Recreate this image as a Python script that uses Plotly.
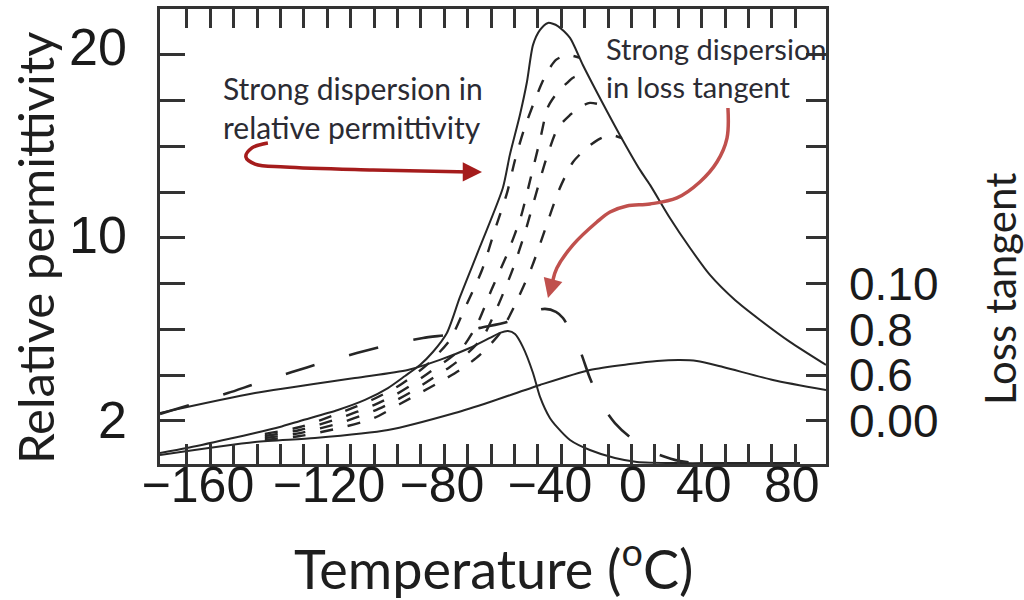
import plotly.graph_objects as go

# ---------------- data (temperature in °C on x) ----------------
# Main permittivity curve (lowest frequency, solid)
P0_T = [-191.5, -180, -160.3, -150.9, -140.3, -131.7, -115.5, -103.9, -94.1, -86.8, -80.4, -74.9,
        -68.9, -63.3, -54.8, -45.0, -42.0, -37.7, -34.7, -32.1, -29.1, -25.7, -21.5, -16.3, -10.8,
        -2.6, 5.0, 13.6, 17.9, 26.4, 35.0, 43.5, 54.2, 64.9, 77.7, 93.1]
P0_V = [-1.75, -1.48, -0.93, -0.66, -0.33, 0, 0.60, 1.15, 1.80, 2.46, 3.06, 3.77, 4.81, 6.78, 9.51,
        12.73, 14.54, 16.72, 18.52, 20.55, 21.37, 21.75, 21.58, 20.93, 19.45, 17.43, 15.63, 13.72,
        12.90, 11.09, 9.45, 7.98, 6.61, 5.52, 4.32, 3.06]

# Higher-frequency permittivity curves (dashed)
D1_T = [-146.7, -131.7, -114.6, -100.1, -90.3, -83.4, -76.2, -67.6, -61.2, -53.9, -48.4, -43.2,
        -39.8, -36.0, -32.1, -28.3, -24.9, -22.3, -17.6, -12.1]
D1_V = [-0.71, -0.33, 0.44, 1.20, 1.86, 2.46, 3.22, 4.43, 6.17, 8.25, 10.44, 12.46, 14.26, 15.90,
        17.27, 18.47, 19.29, 19.73, 20.0, 19.84]
D2_T = [-146.7, -131.7, -114.6, -100.1, -90.3, -83.4, -76.2, -67.6, -62.1, -56.1, -49.7, -42.8,
        -37.3, -33.0, -29.1, -25.7, -21.5, -18.0, -14.2, -9.9]
D2_V = [-0.82, -0.49, 0.16, 0.87, 1.48, 2.02, 2.68, 3.44, 4.04, 5.25, 7.21, 9.23, 11.15, 13.33,
        15.36, 17.16, 17.98, 18.42, 18.80, 18.69]
D3_T = [-146.7, -131.7, -114.6, -100.1, -90.3, -83.4, -76.2, -67.6, -59.9, -53.5, -47.5, -40.7,
        -35.6, -31.3, -26.6, -21.5, -16.3, -12.1, -7.8, -2.6]
D3_V = [-0.93, -0.66, -0.11, 0.55, 1.15, 1.64, 2.24, 2.95, 3.72, 4.59, 6.17, 8.31, 10.27, 12.19,
        14.26, 16.01, 16.72, 17.16, 17.38, 17.27]
D4_T = [-146.7, -131.7, -114.6, -100.1, -89.0, -80.4, -71.9, -63.3, -54.8, -46.2, -39.8, -32.6,
        -27.0, -21.0, -15.0, -9.1, -4.4, 0.8, 5.9]
D4_V = [-1.04, -0.82, -0.38, 0.16, 0.93, 1.53, 2.13, 2.79, 3.61, 4.81, 6.34, 8.42, 10.44, 12.62,
        14.15, 14.92, 15.36, 15.63, 15.46]

# Broad low hump (solid)
L3_T = [-191.5, -150.9, -125.3, -94.1, -65.5, -50.5, -29.1, -7.8, 9.3, 20.9, 30.7, 37.9, 49.1, 70.4, 93.1]
L3_V = [-1.86, -1.15, -0.93, -0.49, 0.44, 1.04, 1.97, 2.79, 3.11, 3.28, 3.33, 3.28, 2.95, 2.24, 1.69]

# Loss tangent curves (right axis)
TAN1_T = [-191.5, -150.9, -108.2, -85.6, -71.9, -59.1, -50.5, -46.2, -42.8, -39.8, -36.4, -32.1,
          -29.1, -24.9, -21.9, -16.3, -7.8, 2.9, 12.3, 30.7, 47.8, 82.0]
TAN1_V = [0.0035, 0.0122, 0.0188, 0.0223, 0.0267, 0.0319, 0.0363, 0.0385, 0.0393, 0.0380, 0.0323,
          0.0210, 0.0105, 0.0013, -0.0026, -0.0083, -0.0127, -0.0162, -0.0179, -0.0184, -0.0184, -0.0184]
TAN2_T = [-191.5, -162.5, -150.9, -135.1, -122.3, -107.4, -94.1, -79.1, -66.3, -54.8, -43.2, -34.7,
          -27.0, -22.3, -19.3, -12.9, -7.8, -2.6, 2.9, 9.3, 19.1, 30.7, 43.5]
TAN2_V = [0.0031, 0.0122, 0.0162, 0.0214, 0.0254, 0.0297, 0.0332, 0.0363, 0.0380, 0.0407, 0.0433,
          0.0472, 0.0490, 0.0477, 0.0450, 0.0332, 0.0188, 0.0070, -0.0009, -0.0070, -0.0136, -0.0175, -0.0188]

# Callout arrows (in the same temperature / permittivity units)
ARROW1_T = [-145.4, -152.2, -154.8, -150.9, -138.1, -100.5, -59.1]
ARROW1_V = [15.19, 14.92, 14.43, 14.04, 13.88, 13.72, 13.61]
ARROW1_TIP = (-53.9, 13.61)
ARROW2_T = [51.2, 50.8, 46.5, 39.2, 29.4, 17.9, 8.0, 0.8, -4.8, -15.0, -21.9, -23.6]
ARROW2_V = [17.10, 15.46, 14.15, 13.06, 12.19, 11.86, 11.75, 11.42, 10.87, 9.62, 8.36, 7.70]
ARROW2_TIP = (-25.7, 6.72)

# Axis ranges and tick labels
X_RANGE = [-191.5, 93.1]
Y_RANGE = [-2.35, 22.51]
Y2_RANGE = [-0.0188, 0.1801]
X_TICK_POS = [-175.3, -119.3, -71.0, -24.9, 10.6, 40.9, 78.5]
X_TICK_TEXT = ["\u2212160", "\u2212120", "\u221280", "\u221240", "0", "40", "80"]
X_MINOR = list(range(-180, 81, 10))
Y_LABEL_POS = [0.05, 10.15, 20.44]
Y_LABEL_TEXT = ["2", "10", "20"]
Y_MINOR = [0, 2.5, 5, 7.5, 10, 12.5, 15, 17.5, 20]
Y2_LABEL_POS = [0, 0.02, 0.04, 0.06]
Y2_LABEL_TEXT = ["0.00", "0.6", "0.8", "0.10"]
Y2_MINOR = [0, 0.02, 0.04, 0.06, 0.08, 0.10, 0.12, 0.14, 0.16, 0.18]

INK = "#262626"
TICKFONT = dict(family="Liberation Sans, Arial, sans-serif", size=50, color="#1a1a1a")
LABELFONT = "Lato, Open Sans, sans-serif"

fig = go.Figure()

def line(x, y, dash="solid", width=2.0, yaxis="y"):
    fig.add_trace(go.Scatter(x=x, y=y, mode="lines", yaxis=yaxis, showlegend=False,
                             hoverinfo="skip",
                             line=dict(color=INK, width=width, dash=dash, shape="spline", smoothing=0.7)))

line(P0_T, P0_V, width=2.0)
for xt, yv in [(D1_T, D1_V), (D2_T, D2_V), (D3_T, D3_V), (D4_T, D4_V)]:
    line(xt, yv, dash="13px,15px", width=2.4)
line(L3_T, L3_V, width=2.0)
line(TAN1_T, TAN1_V, width=2.0, yaxis="y2")
line(TAN2_T, TAN2_V, dash="30px,36px", width=2.6, yaxis="y2")

# top axis carrier (invisible)
fig.add_trace(go.Scatter(x=[None], y=[None], xaxis="x2", showlegend=False, hoverinfo="skip"))

# callout arrows: curved body + arrowhead annotation
for xs, ys, tip, color in [(ARROW1_T, ARROW1_V, ARROW1_TIP, "#a51c1c"),
                           (ARROW2_T, ARROW2_V, ARROW2_TIP, "#c0504d")]:
    fig.add_trace(go.Scatter(x=xs, y=ys, mode="lines", showlegend=False, hoverinfo="skip",
                             line=dict(color=color, width=3.5, shape="spline", smoothing=1.0)))
    fig.add_annotation(x=tip[0], y=tip[1], ax=xs[-1], ay=ys[-1],
                       xref="x", yref="y", axref="x", ayref="y", text="", showarrow=True,
                       arrowhead=2, arrowsize=1.1, arrowwidth=3.5, arrowcolor=color)

# text callouts
fig.add_annotation(x=0.091, y=0.7835, xref="paper", yref="paper", xanchor="left", yanchor="middle",
                   align="left", showarrow=False,
                   text="Strong dispersion in<br>relative permittivity",
                   font=dict(family=LABELFONT, size=30, color="#2b2b33"))
fig.add_annotation(x=0.666, y=0.8714, xref="paper", yref="paper", xanchor="left", yanchor="middle",
                   align="left", showarrow=False,
                   text="Strong dispersion<br>in loss tangent",
                   font=dict(family=LABELFONT, size=29, color="#2b2b33"))

# axis titles
fig.add_annotation(x=-0.1877, y=0.4747, xref="paper", yref="paper", textangle=-90, showarrow=False,
                   xanchor="center", yanchor="middle",
                   text="Relative permittivity", font=dict(family=LABELFONT, size=49, color="#1e1e1e"))
fig.add_annotation(x=1.2613, y=0.3846, xref="paper", yref="paper", textangle=-90, showarrow=False,
                   xanchor="center", yanchor="middle",
                   text="Loss tangent", font=dict(family=LABELFONT, size=42, color="#1e1e1e"))
fig.add_annotation(x=0.5015, y=-0.222, xref="paper", yref="paper", showarrow=False,
                   xanchor="center", yanchor="middle",
                   text="Temperature (<sup>o</sup>C)", font=dict(family=LABELFONT, size=54, color="#1e1e1e"))

fig.update_layout(
    width=1024, height=600, autosize=False,
    margin=dict(l=160, r=198, t=9, b=136, pad=0),
    paper_bgcolor="white", plot_bgcolor="white",
    xaxis=dict(range=X_RANGE, tickmode="array", tickvals=X_TICK_POS, ticktext=X_TICK_TEXT,
               ticks="inside", ticklen=0, tickfont=TICKFONT, showgrid=False, zeroline=False,
               showline=True, linecolor="#333", linewidth=2.5, mirror=True, automargin=False,
               ticklabelstandoff=-25,
               minor=dict(tickmode="array", tickvals=X_MINOR, ticks="inside", ticklen=20,
                          tickwidth=2.5, tickcolor="#333", showgrid=False)),
    xaxis2=dict(range=X_RANGE, overlaying="x", side="top", anchor="y", tickmode="array",
                tickvals=X_MINOR, ticks="inside", ticklen=19, tickwidth=2.5, tickcolor="#333",
                showticklabels=False, showgrid=False, zeroline=False, showline=False,
                automargin=False),
    yaxis=dict(range=Y_RANGE, tickmode="array", tickvals=Y_LABEL_POS, ticktext=Y_LABEL_TEXT,
               ticks="inside", ticklen=0, tickfont=dict(TICKFONT, size=52),
               showgrid=False, zeroline=False, showline=True, linecolor="#333", linewidth=2.5,
               mirror=True, automargin=False, ticklabelstandoff=20,
               minor=dict(tickmode="array", tickvals=Y_MINOR, ticks="inside", ticklen=25,
                          tickwidth=2.5, tickcolor="#333", showgrid=False)),
    yaxis2=dict(range=Y2_RANGE, overlaying="y", side="right", anchor="x", tickmode="array",
                tickvals=Y2_LABEL_POS, ticktext=Y2_LABEL_TEXT, ticks="inside", ticklen=20,
                tickwidth=2.5, tickcolor="#333", tickfont=dict(TICKFONT, size=46), showgrid=False,
                zeroline=False, showline=False, automargin=False, ticklabelstandoff=22,
                minor=dict(tickmode="array", tickvals=Y2_MINOR, ticks="inside", ticklen=20,
                           tickwidth=2.5, tickcolor="#333", showgrid=False)),
)

fig.write_html("out.html")
